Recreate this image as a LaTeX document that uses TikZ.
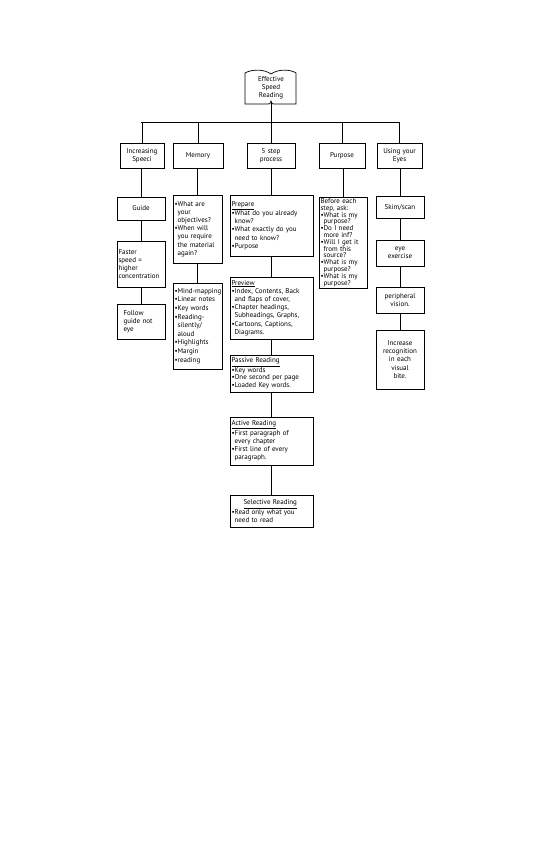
\documentclass[tikz,border=0pt]{standalone}
\usepackage{fontspec}
\setmainfont{PT Sans}
\usetikzlibrary{positioning}
\newcommand{\blt}{\textbullet}
\newcommand{\bind}{\phantom{\textbullet}}
\begin{document}
\begin{tikzpicture}[x=1pt,y=-1pt,
    box/.style={draw,line width=0.7pt,inner sep=1.5pt,align=left,
      font=\fontsize{7}{8.2}\selectfont},
    cbox/.style={box,align=center},
    link/.style={line width=0.7pt}]
  \useasboundingbox (0,0) rectangle (536,848);

  % title book
  \draw[link] (245,73) .. controls (252,69) and (264,69) .. (271,74)
    .. controls (278,69) and (290,69) .. (296,73) -- (296,104) -- (274,104)
    .. controls (272,104) .. (271,101) .. controls (270,104) .. (268,104)
    -- (245,104) -- cycle;
  \node[align=center,font=\fontsize{7}{7.8}\selectfont] (book) at (271,88) {Effective\\Speed\\Reading};
  \coordinate (bookfoot) at (271,102);
  \coordinate (barL) at (141,122);
  \coordinate (barR) at (399,122);

  % main topics
  \node[cbox,text width=41,minimum height=25] (inc) at (142,155.5) {Increasing\\Speeci};
  \node[cbox,text width=47,minimum height=25] (mem) at (198,155.5) {Memory};
  \node[cbox,text width=45,minimum height=25] (step) at (271,155.5) {5 step\\process};
  \node[cbox,text width=43,minimum height=25] (pur) at (342,155.5) {Purpose};
  \node[cbox,text width=42,minimum height=25] (eyes) at (399.5,155.5) {Using your\\Eyes};

  % increasing speed
  \node[cbox,text width=45,minimum height=23] (guide) at (141,208.5) {Guide};
  \node[box,text width=45,minimum height=46] (faster) at (141,264) {Faster\\speed =\\higher\\concentration};
  \node[box,text width=45,minimum height=35] (follow) at (141,321.5) {\hspace*{5pt}Follow\\\hspace*{5pt}guide not\\\hspace*{5pt}eye};

  % memory
  \node[box,text width=46,minimum height=68] (memA) at (197.5,229) {\blt What are\\\bind your\\\bind objectives?\\\blt When will\\\bind you require\\\bind the material\\\bind again?};
  \node[box,text width=46,minimum height=86,font=\fontsize{7}{8.6}\selectfont] (memB) at (197.5,326) {\blt\mbox{Mind-mapping}\\\blt Linear notes\\\blt Key words\\\blt Reading-\\\bind silently/\\\bind aloud\\\blt Highlights\\\blt Margin\\\blt reading};

  % 5 step process
  \node[box,text width=80,minimum height=61] (prep) at (271.5,225.5) {\underline{Prepare}\\\blt What do you already\\\bind know?\\\blt What exactly do you\\\bind need to know?\\\blt Purpose};
  \node[box,text width=80,minimum height=62] (prev) at (271.5,308) {\underline{Preview}\\\blt Index, Contents, Back\\\bind and flaps of cover,\\\blt Chapter headings,\\\bind Subheadings, Graphs,\\\blt Cartoons, Captions,\\\bind Diagrams.};
  \node[box,text width=80,minimum height=37,font=\fontsize{7}{7.6}\selectfont] (pass) at (271.5,373.5) {\underline{Passive Reading}\\\blt Key words\\\blt One second per page\\\blt Loaded Key words.};
  \node[box,text width=80,minimum height=48] (act) at (271.5,441) {\underline{Active Reading}\\\blt First paragraph of\\\bind every chapter\\\blt First line of every\\\bind paragraph.};
  \node[box,text width=80,minimum height=32,font=\fontsize{7}{7.8}\selectfont] (sel) at (271.5,511) {\hspace{12pt}\underline{Selective Reading}\\\blt Read only what you\\\bind need to read};

  % purpose
  \node[box,text width=45,minimum height=91,font=\fontsize{7}{6.8}\selectfont] (before) at (343,242.5) {Before each\\step, ask:\\\blt What is my\\\bind purpose?\\\blt Do I need\\\bind more inf?\\\blt Will I get it\\\bind from this\\\bind source?\\\blt What is my\\\bind purpose?\\\blt What is my\\\bind purpose?};

  % using your eyes
  \node[cbox,text width=45,minimum height=22] (skim) at (400,207) {Skim/scan};
  \node[cbox,text width=45,minimum height=26] (exer) at (400,253) {eye\\exercise};
  \node[cbox,text width=45,minimum height=26] (peri) at (400,300) {peripheral\\vision.};
  \node[cbox,text width=45,minimum height=59] (recog) at (400,359.5) {Increase\\recognition\\in each\\visual\\bite.};

  % connectors
  \draw[link] (barL) -- (barR);
  \draw[link] (bookfoot) -- (bookfoot |- barL);
  \foreach \n in {inc,mem,step,pur,eyes}
    \draw[link] (\n.north) -- (\n.north |- barL);
  \foreach \a/\b in {inc/guide, guide/faster, faster/follow, mem/memA, memA/memB,
      step/prep, prep/prev, prev/pass, pass/act, act/sel, pur/before,
      eyes/skim, skim/exer, exer/peri, peri/recog}
    \draw[link] (\a.south) -- (\a.south -| \b.north) -- (\b.north);
\end{tikzpicture}
\end{document}
